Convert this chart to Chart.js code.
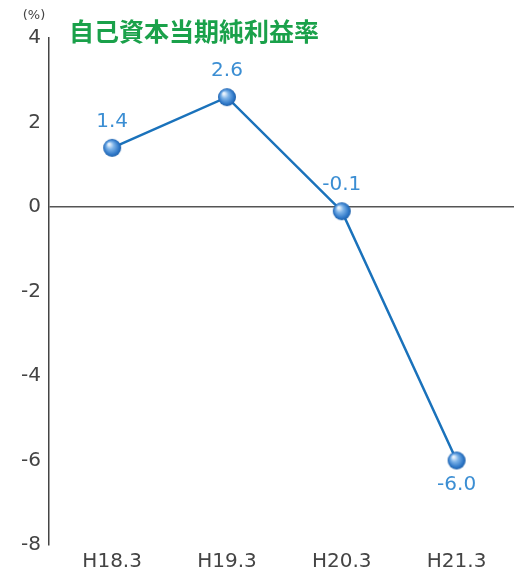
<!DOCTYPE html>
<html>
<head>
<meta charset="utf-8">
<script src="https://cdn.jsdelivr.net/npm/chart.js@4"></script>
<style>
  html, body { margin: 0; padding: 0; background: #fff; }
  #wrap { width: 514px; height: 572px; position: relative; }
</style>
</head>
<body>
<div id="wrap"><canvas id="chart" width="514" height="572"></canvas></div>
<script>
// data
const categories = ['H18.3', 'H19.3', 'H20.3', 'H21.3'];
const roeValues = [1.4, 2.6, -0.1, -6.0];
const valueLabels = ['1.4', '2.6', '-0.1', '-6.0'];
const labelBelow = [false, false, false, true];
const yTicks = [4, 2, 0, -2, -4, -6, -8];

const chartTitle = '自己資本当期純利益率';
const unitLabel = '(%)';

// shaded ball used as point marker
function makeBall(r) {
    const c = document.createElement('canvas');
    c.width = r * 2 + 2;
    c.height = r * 2 + 2;
    const g = c.getContext('2d');
    const cx = r + 1, cy = r + 1;
    const grad = g.createRadialGradient(cx - r * 0.35, cy - r * 0.4, r * 0.1, cx, cy, r);
    grad.addColorStop(0, '#e8f2fc');
    grad.addColorStop(0.35, '#7db3e8');
    grad.addColorStop(0.8, '#2f78c8');
    grad.addColorStop(1, '#1d5fa8');
    g.fillStyle = grad;
    g.beginPath();
    g.arc(cx, cy, r, 0, Math.PI * 2);
    g.fill();
    return c;
}
const ball = makeBall(9);

const extraText = {
    id: 'extraText',
    afterDatasetsDraw(chart) {
        const ctx = chart.ctx;
        ctx.save();
        // unit
        ctx.fillStyle = '#444';
        ctx.font = '13px "DejaVu Sans", sans-serif';
        ctx.textAlign = 'center';
        ctx.textBaseline = 'middle';
        ctx.fillText(unitLabel, 34, 16);
        // title
        ctx.fillStyle = '#1aa14a';
        ctx.font = 'bold 25px "Noto Sans CJK JP", sans-serif';
        ctx.textAlign = 'left';
        ctx.fillText(chartTitle, 69, 31);
        // value labels
        const meta = chart.getDatasetMeta(0);
        ctx.fillStyle = '#3b8ed3';
        ctx.font = '20px "DejaVu Sans", sans-serif';
        ctx.textAlign = 'center';
        meta.data.forEach((pt, i) => {
            const dy = labelBelow[i] ? 24 : -26;
            ctx.fillText(valueLabels[i], pt.x, pt.y + dy);
        });
        ctx.restore();
    }
};

new Chart(document.getElementById('chart'), {
    type: 'line',
    data: {
        datasets: [{
            data: roeValues.map((v, i) => ({ x: i, y: v })),
            borderColor: '#1a72bb',
            borderWidth: 2.5,
            pointStyle: ball,
            pointRadius: 9,
            tension: 0,
            clip: false
        }]
    },
    options: {
        responsive: false,
        animation: false,
        layout: { autoPadding: false, padding: { top: 38, right: 0, left: 0, bottom: 0 } },
        plugins: {
            legend: { display: false },
            tooltip: { enabled: false }
        },
        scales: {
            x: {
                type: 'linear',
                min: -0.55,
                max: 3.5,
                afterBuildTicks: axis => { axis.ticks = categories.map((c, i) => ({ value: i })); },
                afterFit: axis => {
                    axis.height = 27;
                    axis.paddingLeft = 0;
                    axis.paddingRight = 0;
                },
                grid: { display: false },
                border: { display: false },
                ticks: {
                    callback: v => categories[v],
                    color: '#444',
                    font: { size: 20, family: '"DejaVu Sans", sans-serif' },
                    padding: -3,
                    maxRotation: 0
                }
            },
            y: {
                min: -8,
                max: 4,
                afterBuildTicks: axis => { axis.ticks = yTicks.map(v => ({ value: v })); },
                afterFit: axis => { axis.width = 49; },
                border: { display: true, color: '#444', width: 1.5 },
                grid: {
                    drawTicks: false,
                    color: ctx => ctx.tick && ctx.tick.value === 0 ? '#555' : 'rgba(0,0,0,0)',
                    lineWidth: 1.5
                },
                ticks: {
                    color: '#444',
                    font: { size: 20, family: '"DejaVu Sans", sans-serif' },
                    padding: 8
                }
            }
        }
    },
    plugins: [extraText]
});
</script>
</body>
</html>
